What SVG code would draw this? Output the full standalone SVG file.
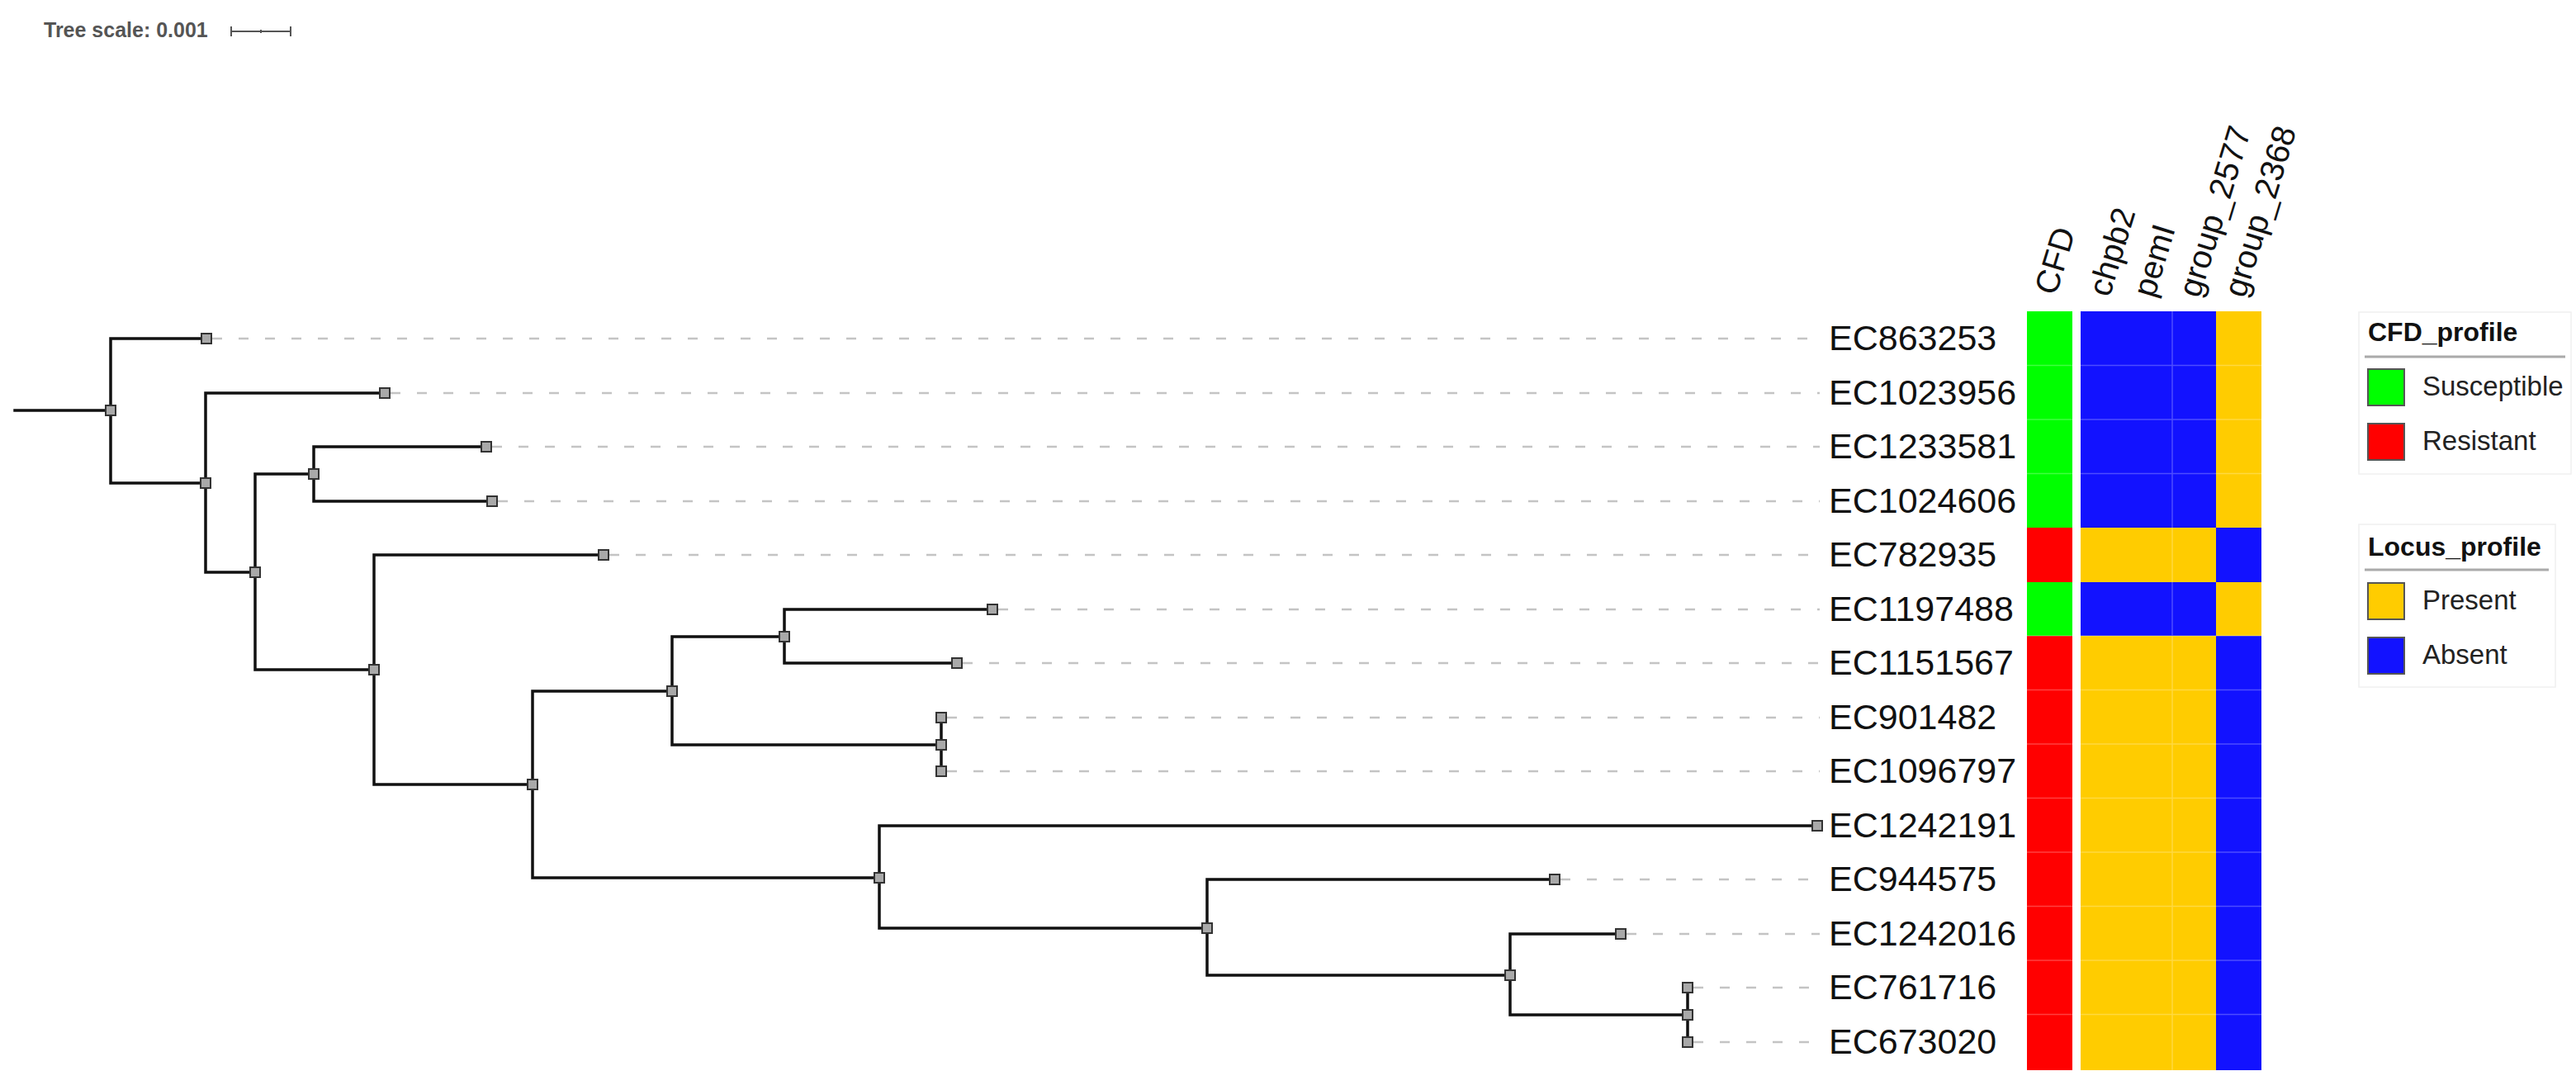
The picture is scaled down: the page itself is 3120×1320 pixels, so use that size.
<svg xmlns="http://www.w3.org/2000/svg" width="3120" height="1320" viewBox="0 0 3120 1320">
<style>
.br{fill:none;stroke:#111;stroke-width:3.5;stroke-linecap:square}
.dash{fill:none;stroke:#c4c4c4;stroke-width:2.5;stroke-dasharray:12 20}
.nd{fill:#a9a9a9;stroke:#333;stroke-width:2}
.lab{font-family:"Liberation Sans",Arial,sans-serif;font-size:43px;fill:#111}
.hdr{font-family:"Liberation Sans",Arial,sans-serif;font-size:40px;fill:#111}
.lt{font-family:"Liberation Sans",Arial,sans-serif;font-size:32px;font-weight:bold;fill:#111}
.li{font-family:"Liberation Sans",Arial,sans-serif;font-size:33px;fill:#222}
.sw{stroke:#555;stroke-width:2}
.g{fill:#00ff00}.r{fill:#ff0000}.y{fill:#ffcc00}.b{fill:#1212ff}
.fl{stroke:#ffffff;stroke-opacity:0.25;stroke-width:1.5}
</style>
<rect width="3120" height="1320" fill="#ffffff"/>

<g id="tree-scale">
<text x="53" y="45" font-family="Liberation Sans, Arial, sans-serif" font-size="25" font-weight="bold" fill="#555">Tree scale: 0.001</text>
<path d="M280,38 H352 M280,32 V44 M352,32 V44 M316,36 V40" stroke="#555" stroke-width="2" fill="none"/>
</g>

<g id="connectors">
<path class="br" d="M18,497 H134"/>
<path class="br" d="M134,410 V585 M134,410 H250 M134,585 H249"/>
<path class="br" d="M249,476 V693 M249,476 H466 M249,693 H309"/>
<path class="br" d="M309,574 V811 M309,574 H380 M309,811 H453"/>
<path class="br" d="M380,541 V607 M380,541 H589 M380,607 H596"/>
<path class="br" d="M453,672 V950 M453,672 H731 M453,950 H645"/>
<path class="br" d="M645,837 V1063 M645,837 H814 M645,1063 H1065"/>
<path class="br" d="M814,771 V902 M814,771 H950 M814,902 H1140"/>
<path class="br" d="M950,738 V803 M950,738 H1202 M950,803 H1159"/>
<path class="br" d="M1140,869 V934"/>
<path class="br" d="M1065,1000 V1124 M1065,1000 H2201 M1065,1124 H1462"/>
<path class="br" d="M1462,1065 V1181 M1462,1065 H1883 M1462,1181 H1829"/>
<path class="br" d="M1829,1131 V1229 M1829,1131 H1963 M1829,1229 H2044"/>
<path class="br" d="M2044,1196 V1262"/>
</g>

<g id="internal-nodes">
<rect id="n-root" class="nd" x="128" y="491" width="12" height="12"/>
<rect id="n-b" class="nd" x="243" y="579" width="12" height="12"/>
<rect id="n-c" class="nd" x="303" y="687" width="12" height="12"/>
<rect id="n-d" class="nd" x="374" y="568" width="12" height="12"/>
<rect id="n-e" class="nd" x="447" y="805" width="12" height="12"/>
<rect id="n-m" class="nd" x="639" y="944" width="12" height="12"/>
<rect id="n-f" class="nd" x="808" y="831" width="12" height="12"/>
<rect id="n-g" class="nd" x="944" y="765" width="12" height="12"/>
<rect id="n-h" class="nd" x="1134" y="896" width="12" height="12"/>
<rect id="n-i" class="nd" x="1059" y="1057" width="12" height="12"/>
<rect id="n-j" class="nd" x="1456" y="1118" width="12" height="12"/>
<rect id="n-k" class="nd" x="1823" y="1175" width="12" height="12"/>
<rect id="n-l" class="nd" x="2038" y="1223" width="12" height="12"/>
</g>

<g id="leaf-EC863253"><path class="dash" d="M257,410 H2204"/><rect class="nd" x="244" y="404" width="12" height="12"/><text class="lab" x="2215" y="424">EC863253</text></g>
<g id="leaf-EC1023956"><path class="dash" d="M473,476 H2204"/><rect class="nd" x="460" y="470" width="12" height="12"/><text class="lab" x="2215" y="490">EC1023956</text></g>
<g id="leaf-EC1233581"><path class="dash" d="M596,541 H2204"/><rect class="nd" x="583" y="535" width="12" height="12"/><text class="lab" x="2215" y="555">EC1233581</text></g>
<g id="leaf-EC1024606"><path class="dash" d="M603,607 H2204"/><rect class="nd" x="590" y="601" width="12" height="12"/><text class="lab" x="2215" y="621">EC1024606</text></g>
<g id="leaf-EC782935"><path class="dash" d="M738,672 H2204"/><rect class="nd" x="725" y="666" width="12" height="12"/><text class="lab" x="2215" y="686">EC782935</text></g>
<g id="leaf-EC1197488"><path class="dash" d="M1209,738 H2204"/><rect class="nd" x="1196" y="732" width="12" height="12"/><text class="lab" x="2215" y="752">EC1197488</text></g>
<g id="leaf-EC1151567"><path class="dash" d="M1166,803 H2204"/><rect class="nd" x="1153" y="797" width="12" height="12"/><text class="lab" x="2215" y="817">EC1151567</text></g>
<g id="leaf-EC901482"><path class="dash" d="M1147,869 H2204"/><rect class="nd" x="1134" y="863" width="12" height="12"/><text class="lab" x="2215" y="883">EC901482</text></g>
<g id="leaf-EC1096797"><path class="dash" d="M1147,934 H2204"/><rect class="nd" x="1134" y="928" width="12" height="12"/><text class="lab" x="2215" y="948">EC1096797</text></g>
<g id="leaf-EC1242191"><rect class="nd" x="2195" y="994" width="12" height="12"/><text class="lab" x="2215" y="1014">EC1242191</text></g>
<g id="leaf-EC944575"><path class="dash" d="M1890,1065 H2204"/><rect class="nd" x="1877" y="1059" width="12" height="12"/><text class="lab" x="2215" y="1079">EC944575</text></g>
<g id="leaf-EC1242016"><path class="dash" d="M1970,1131 H2204"/><rect class="nd" x="1957" y="1125" width="12" height="12"/><text class="lab" x="2215" y="1145">EC1242016</text></g>
<g id="leaf-EC761716"><path class="dash" d="M2051,1196 H2204"/><rect class="nd" x="2038" y="1190" width="12" height="12"/><text class="lab" x="2215" y="1210">EC761716</text></g>
<g id="leaf-EC673020"><path class="dash" d="M2051,1262 H2204"/><rect class="nd" x="2038" y="1256" width="12" height="12"/><text class="lab" x="2215" y="1276">EC673020</text></g>

<g id="headers">
<text class="hdr" transform="translate(2490,359) rotate(-73)">CFD</text>
<text class="hdr" transform="translate(2555,361) rotate(-73)">chpb2</text>
<text class="hdr" transform="translate(2609,362) rotate(-73)">pemI</text>
<text class="hdr" transform="translate(2664,362) rotate(-73)">group_2577</text>
<text class="hdr" transform="translate(2719,362) rotate(-73)">group_2368</text>
</g>

<g id="heatmap-cfd">
<rect class="g" x="2455" y="377" width="55" height="262"/>
<rect class="r" x="2455" y="639" width="55" height="66"/>
<rect class="g" x="2455" y="705" width="55" height="65"/>
<rect class="r" x="2455" y="770" width="55" height="526"/>
</g>

<g id="heatmap-loci">
<rect class="b" x="2520" y="377" width="164" height="262"/>
<rect class="y" x="2684" y="377" width="55" height="262"/>
<rect class="y" x="2520" y="639" width="164" height="66"/>
<rect class="b" x="2684" y="639" width="55" height="66"/>
<rect class="b" x="2520" y="705" width="164" height="65"/>
<rect class="y" x="2684" y="705" width="55" height="65"/>
<rect class="y" x="2520" y="770" width="164" height="526"/>
<rect class="b" x="2684" y="770" width="55" height="526"/>
</g>

<g id="cell-lines">
<path class="fl" d="M2631,377 V1296 M2455,442.5 H2510 M2520,442.5 H2739 M2455,508 H2510 M2520,508 H2739 M2455,573.5 H2510 M2520,573.5 H2739 M2455,770 H2510 M2520,770 H2739 M2455,835.5 H2510 M2520,835.5 H2739 M2455,901 H2510 M2520,901 H2739 M2455,966.5 H2510 M2520,966.5 H2739 M2455,1032 H2510 M2520,1032 H2739 M2455,1097.5 H2510 M2520,1097.5 H2739 M2455,1163 H2510 M2520,1163 H2739 M2455,1228.5 H2510 M2520,1228.5 H2739"/>
</g>

<g id="legend-cfd">
<rect x="2857" y="378" width="257" height="196" fill="#ffffff" stroke="#f0f0f0" stroke-width="1.5"/>
<text class="lt" x="2868" y="413">CFD_profile</text>
<path d="M2864,432 H3107" stroke="#aaaaaa" stroke-width="3"/>
<rect class="g sw" x="2868" y="447" width="44" height="44"/>
<text class="li" x="2934" y="479">Susceptible</text>
<rect class="r sw" x="2868" y="513" width="44" height="44"/>
<text class="li" x="2934" y="545">Resistant</text>
</g>

<g id="legend-locus">
<rect x="2857" y="635" width="238" height="197" fill="#ffffff" stroke="#f0f0f0" stroke-width="1.5"/>
<text class="lt" x="2868" y="673">Locus_profile</text>
<path d="M2864,690 H3087" stroke="#aaaaaa" stroke-width="3"/>
<rect class="y sw" x="2868" y="706" width="44" height="44"/>
<text class="li" x="2934" y="738">Present</text>
<rect class="b sw" x="2868" y="772" width="44" height="44"/>
<text class="li" x="2934" y="804">Absent</text>
</g>
</svg>
